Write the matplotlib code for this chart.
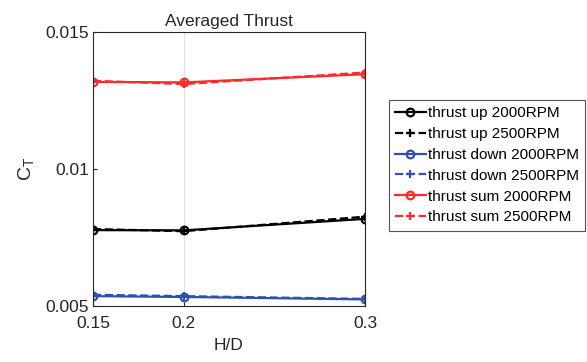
import matplotlib.pyplot as plt

hd = [0.15, 0.2, 0.3]

up_2000 = [0.00777, 0.00776, 0.00818]
up_2500 = [0.00781, 0.00773, 0.00826]
down_2000 = [0.00536, 0.00533, 0.00524]
down_2500 = [0.00541, 0.00536, 0.00526]
sum_2000 = [0.01318, 0.01316, 0.01346]
sum_2500 = [0.01322, 0.01310, 0.01352]

black = "#000000"
blue = "#3050b0"
red = "#ff2a2a"

plt.rcParams["font.family"] = "Liberation Sans"

fig = plt.figure(figsize=(5.87, 3.62), dpi=100)
ax = fig.add_axes([93 / 587, 1 - 306 / 362, 272 / 587, 274 / 362])

series = [
    (up_2000, black, "-", "o", "thrust up 2000RPM"),
    (up_2500, black, "--", "+", "thrust up 2500RPM"),
    (down_2000, blue, "-", "o", "thrust down 2000RPM"),
    (down_2500, blue, "--", "+", "thrust down 2500RPM"),
    (sum_2000, red, "-", "o", "thrust sum 2000RPM"),
    (sum_2500, red, "--", "+", "thrust sum 2500RPM"),
]
for vals, c, ls, mk, lab in series:
    ax.plot(hd, vals, color=c, linestyle=ls, marker=mk, markersize=5.5,
            markerfacecolor="none" if mk == "o" else c, markeredgewidth=1.6,
            linewidth=1.6, label=lab)

ax.set_xlim(0.15, 0.3)
ax.set_ylim(0.005, 0.015)
ax.set_xticks(hd)
ax.set_xticklabels(["0.15", "0.2", "0.3"])
ax.set_yticks([0.005, 0.01, 0.015])
ax.set_yticklabels(["0.005", "0.01", "0.015"])
ax.tick_params(direction="in", labelsize=12.5, colors="#262626", length=3, pad=3)
ax.tick_params(axis="x", pad=7)
ax.grid(axis="x", color="#e0e0e0", linewidth=0.8)
for s in ax.spines.values():
    s.set_color("#262626")
    s.set_linewidth(0.8)

ax.set_title("Averaged Thrust", fontsize=12.5, color="#262626", pad=4)
ax.set_xlabel("H/D", fontsize=12.5, color="#262626", labelpad=5)
ax.set_ylabel("C$_\\mathregular{T}$", fontsize=14, color="#262626", labelpad=6)

leg = ax.legend(loc="upper left", bbox_to_anchor=(296 / 272, (306 - 100) / 274),
                fontsize=11, frameon=True, fancybox=False, edgecolor="#262626",
                handlelength=2.0, handletextpad=0.15, borderpad=0.4, labelspacing=0.45,
                borderaxespad=0)
leg.get_frame().set_linewidth(0.8)

plt.savefig("out.png", dpi=100)
